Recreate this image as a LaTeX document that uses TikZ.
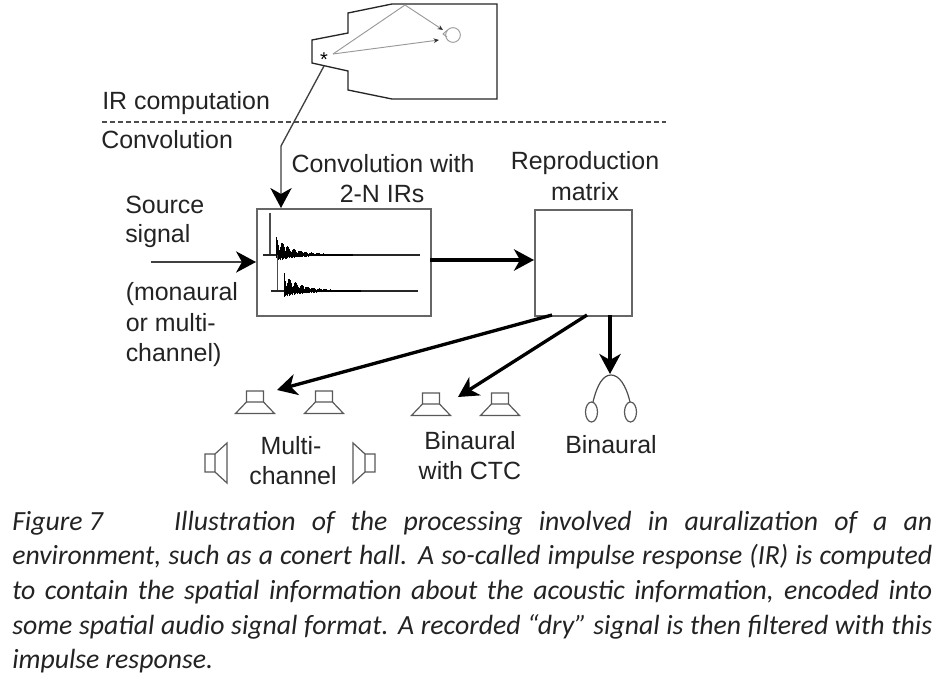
\documentclass[tikz,border=0pt]{standalone}
\usepackage{fontspec}
\setmainfont{Liberation Sans}
\newfontfamily\capfont{Carlito}
\usetikzlibrary{arrows.meta,calc}
\definecolor{ink}{RGB}{35,35,35}
\tikzset{
 lbl/.style={font=\fontsize{18.7}{24}\selectfont,text=ink,inner sep=0pt,anchor=base},
 lblw/.style={lbl,anchor=base west},
 boxn/.style={draw=black!60,line width=1.2pt,fill=white,inner sep=0pt,anchor=north west},
 flow/.style={draw=black,line width=2.5pt,-{Stealth[length=15pt,width=16pt,inset=4.5pt]}},
 thinflow/.style={draw=black!75,line width=1pt,-{Stealth[length=15pt,width=16pt,inset=4.5pt,black]}},
 ray/.style={draw=black!40,line width=.7pt},
 raya/.style={draw=black!40,line width=.7pt,-{Stealth[length=4pt,width=3.5pt,black!80]}},
 hall/.style={draw=black!85,line width=1pt,line join=miter},
 spk/.style={draw=black!65,line width=.9pt,line join=miter},
 wave/.style={draw=black,line width=.7pt},
 captext/.style={font=\capfont\itshape\fontsize{20.8}{26}\selectfont,text=ink,inner sep=0pt,anchor=base west,text width=690pt,align=justify}
}
\newcommand{\spkup}[2]{\draw[spk] (#1-8.5,#2) rectangle (#1+8.5,#2-11) (#1-8.5,#2) -- (#1-19.5,#2+11.5) -- (#1+19.5,#2+11.5) -- (#1+8.5,#2);}
\newcommand{\impulse}[5]{% spike x, baseline y, spike top y, line start x, line end x
 \draw[wave,black!70,line width=1pt] (#1,#3) -- (#1,#2+1);
 \draw[wave,line width=.9pt,black!85] (#4,#2) -- (#5,#2);
 \foreach \i in {0,...,80}{
  \pgfmathsetmacro{\xx}{#1+6.5+\i*0.95}
  \pgfmathsetmacro{\aa}{17*exp(-\i/17)*(0.25+0.75*abs(cos(\i*29)))+0.6}
  \pgfmathsetmacro{\bb}{6*exp(-\i/20)*(0.4+0.6*abs(sin(\i*71)))+0.5}
  \draw[wave] (\xx,#2+\bb) -- (\xx,#2-\aa);
 }
}
\begin{document}
\begin{tikzpicture}[x=0.75pt,y=0.75pt,yscale=-1]
\useasboundingbox (0,0) rectangle (947,685);
\fill[white] (0,0) rectangle (947,685);
% hall
\draw[hall] (392,4) -- (497,4) -- (497,99) -- (392,99) -- (348,90) -- (348,71) -- (312,63) -- (312,40) -- (348,33) -- (348,13) -- cycle;
\coordinate (hallout) at (324,66);
\coordinate (bend) at (281,146);
\coordinate (refl) at (405,5);
\coordinate (rayend) at (333,54);
\coordinate (rayb) at (439,40);
\coordinate (rayc) at (443,30);
\node[font=\fontsize{15}{15}\selectfont,inner sep=0pt,text=black] (star) at (324,59.5) {*};
\draw[ray] (rayend) -- (refl);
\draw[raya] (refl) -- (rayc);
\draw[raya] (rayend) -- (rayb);
\node[draw=black!40,line width=.7pt,circle,minimum size=11pt,inner sep=0pt] (head) at (453,35) {};
\draw[black!40,line width=.7pt] (447,30.5) -- (443,34) -- (447,37);
% labels
\node[lblw] (ir) at (102,110) {IR computation};
\coordinate (dl) at (102,122);
\coordinate (dr) at (666,122);
\draw[black!70,line width=.8pt,dash pattern=on 3.5pt off 2.5pt] (dl) -- (dr);
\node[lblw] (conv) at (101,148) {Convolution};
\node[lbl] (cw) at (383,172) {Convolution with};
\node[lbl] (ins) at (382,202) {2-N IRs};
\node[lbl] (rm1) at (585,170) {Reproduction};
\node[lbl] (rm2) at (585,200) {matrix};
\node[lblw] (s1) at (125,213) {Source};
\node[lblw] (s2) at (125,243) {signal};
\node[lblw] (s3) at (125.5,300) {(monaural};
\node[lblw] (s4) at (125.5,331) {or multi-};
\node[lblw] (s5) at (125.5,361) {channel)};
\node[lbl] (m1) at (291,454) {Multi-};
\node[lbl] (m2) at (293,484) {channel};
\node[lbl] (b1) at (470,449) {Binaural};
\node[lbl] (b2) at (470,479) {with CTC};
\node[lbl] (b3) at (611,453) {Binaural};
% boxes
\node[boxn,minimum width=130.5pt,minimum height=80.2pt] (cb) at (256,208) {};
\node[boxn,minimum width=72.7pt,minimum height=79.5pt] (mx) at (534,209) {};
\impulse{270}{255}{213}{263}{420}
\impulse{277.5}{291}{255}{271}{418}
% connectors
\coordinate (sgstart) at (151,262);
\coordinate (cbin) at (cb.west |- sgstart);
\draw[thinflow] (sgstart) -- (cbin);
\draw[thinflow] (hallout) -- (bend) -- (bend |- cb.north);
\coordinate (cbout) at (430,260);
\draw[flow] (cbout) -- (cbout -| mx.west);
\coordinate (m1s) at (552,315);
\coordinate (m2s) at (587,315);
\coordinate (m3s) at (610,315);
\coordinate (t1) at (277,390);
\coordinate (t2) at (458,397);
\coordinate (t3) at (610,374);
\draw[flow] (m1s) -- (t1);
\draw[flow] (m2s) -- (t2);
\draw[flow] (m3s) -- (t3);
% speakers
\spkup{255}{402}
\spkup{324}{402}
\spkup{431}{404}
\spkup{500}{404}
\draw[spk] (205,454) rectangle (215,472) (215,454) -- (227,443) -- (227,483) -- (215,472);
\draw[spk] (365,454) rectangle (375,472) (365,454) -- (353,443) -- (353,483) -- (365,472);
% headphones
\draw[draw=black!70,line width=.9pt] (593,402) .. controls (597,385) and (603,375) .. (611,375) .. controls (619,375) and (626,385) .. (630,402);
\draw[spk] (591.5,412) ellipse [x radius=6,y radius=10];
\draw[spk] (630.5,412) ellipse [x radius=6,y radius=10];
% caption
\node[captext] (cap) at (12,530) {\makebox[121.5pt][l]{Figure 7}Illustration of the processing involved in auralization of a an\linebreak
environment, such as a conert hall. A so-called impulse response (IR) is computed\linebreak
to contain the spatial information about the acoustic information, encoded into\linebreak
some spatial audio signal format. A recorded “dry” signal is then filtered with this\linebreak
impulse response.};
\end{tikzpicture}
\end{document}
